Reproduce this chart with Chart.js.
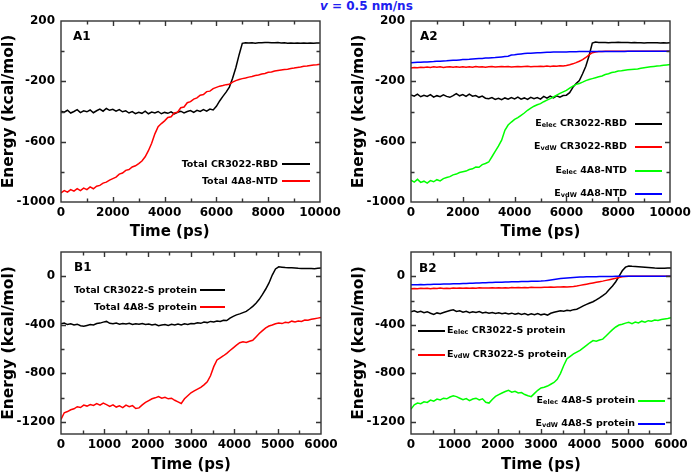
<!DOCTYPE html>
<html>
<head>
<meta charset="utf-8">
<script src="https://cdn.jsdelivr.net/npm/chart.js@4"></script>
<style>
  body { margin: 0; background: #fff; }
  #wrap { position: relative; width: 700px; height: 474px; overflow: hidden;
          font-family: "DejaVu Sans", sans-serif; font-weight: bold; }
  canvas { position: absolute; }
  .lbl { position: absolute; font-size: 12px; line-height: 12px; white-space: nowrap; }
  .leg { position: absolute; font-size: 9.5px; line-height: 12px; white-space: nowrap;
         display: flex; align-items: center; }
  .leg sub { font-size: 6.5px; vertical-align: baseline; position: relative; top: 1px; }
  .leg .ln { display: inline-block; height: 2px; }
</style>
</head>
<body>
<div id="wrap">
  <div class="lbl" style="left:320px;top:0px;color:#2020f0"><i>v</i> = 0.5 nm/ns</div>
  <canvas id="a1" width="350" height="248" style="left:0;top:0"></canvas>
  <canvas id="a2" width="350" height="248" style="left:350px;top:0"></canvas>
  <canvas id="b1" width="350" height="237" style="left:0;top:237px"></canvas>
  <canvas id="b2" width="350" height="237" style="left:350px;top:237px"></canvas>
  <div class="lbl" style="left:73px;top:30px">A1</div>
  <div class="lbl" style="left:420px;top:30px">A2</div>
  <div class="lbl" style="left:74px;top:261px">B1</div>
  <div class="lbl" style="left:419px;top:262px">B2</div>
</div>
<script>
// time axes (ps)
const timeA = [0,125,250,375,500,625,750,875,1000,1125,1250,1375,1500,1625,1750,1875,
  2000,2125,2250,2375,2500,2625,2750,2875,3000,3125,3250,3375,3500,3625,3750,3875,
  4000,4125,4250,4375,4500,4625,4750,4875,5000,5125,5250,5375,5500,5625,5750,5875,
  6000,6125,6250,6375,6500,6625,6750,6875,7000,7125,7250,7375,7500,7625,7750,7875,
  8000,8125,8250,8375,8500,8625,8750,8875,9000,9125,9250,9375,9500,9625,9750,9875,10000];
const timeB = [0,75,150,225,300,375,450,525,600,675,750,825,900,975,1050,1125,
  1200,1275,1350,1425,1500,1575,1650,1725,1800,1875,1950,2025,2100,2175,2250,2325,
  2400,2475,2550,2625,2700,2775,2850,2925,3000,3075,3150,3225,3300,3375,3450,3525,
  3600,3675,3750,3825,3900,3975,4050,4125,4200,4275,4350,4425,4500,4575,4650,4725,
  4800,4875,4950,5025,5100,5175,5250,5325,5400,5475,5550,5625,5700,5775,5850,5925,6000];

// A1: total energies (kcal/mol)
const a1TotalCR3022 = [-398,-405,-392,-410,-400,-388,-407,-396,
  -402,-390,-408,-395,-384,-398,-380,-392,
  -386,-398,-388,-402,-396,-410,-400,-414,
  -405,-412,-398,-415,-404,-410,-400,-415,
  -406,-412,-402,-416,-405,-398,-410,-400,
  -394,-406,-392,-400,-388,-398,-384,-390,
  -366,-330,-300,-272,-238,-180,-110,-25,
  52,56,54,55,53,56,55,57,
  58,56,55,57,54,55,53,54,
  52,54,53,54,53,54,53,54, 54];
const a1Total4A8 = [-940,-925,-935,-918,-928,-912,-925,-908,
  -918,-900,-912,-895,-890,-875,-868,-855,
  -845,-835,-815,-808,-790,-785,-768,-760,
  -745,-728,-700,-660,-610,-548,-500,-480,
  -462,-440,-435,-410,-405,-375,-370,-342,
  -335,-318,-310,-292,-288,-268,-265,-248,
  -240,-232,-228,-222,-220,-205,-195,-188,
  -182,-178,-172,-168,-162,-158,-152,-148,
  -140,-138,-132,-128,-125,-122,-120,-115,
  -112,-108,-105,-100,-98,-95,-92,-90, -87];

// A2: energy components
const a2ElecCR3022 = [-290,-298,-285,-302,-292,-300,-288,-305,
  -295,-302,-290,-300,-306,-295,-282,-296,
  -288,-300,-285,-298,-294,-306,-298,-312,
  -315,-308,-320,-312,-322,-310,-318,-308,
  -316,-305,-318,-310,-320,-306,-315,-308,
  -318,-300,-312,-298,-310,-296,-305,-294,
  -292,-275,-240,-215,-195,-150,-100,-30,
  54,60,58,57,58,56,57,58,
  59,58,57,58,56,57,55,56,
  54,56,55,56,55,54,55,54, 55];
const a2VdwCR3022 = [-112,-108,-110,-106,-109,-105,-108,-104,
  -107,-104,-108,-105,-103,-107,-104,-106,
  -103,-106,-104,-107,-102,-105,-103,-106,
  -104,-102,-105,-103,-101,-104,-102,-105,
  -103,-101,-104,-102,-100,-103,-101,-102,
  -100,-102,-99,-101,-98,-100,-97,-99,
  -95,-90,-84,-76,-67,-56,-42,-25,
  -10,-5,-3,-2,-1,-1,0,0,
  0,0,0,0,0,0,0,0,
  0,0,0,0,0,0,0,0, 0];
const a2Elec4A8 = [-855,-868,-850,-870,-862,-875,-858,-866,
  -852,-860,-845,-838,-832,-820,-815,-805,
  -800,-795,-785,-780,-768,-770,-752,-745,
  -735,-700,-665,-630,-590,-525,-490,-470,
  -452,-440,-425,-410,-392,-378,-365,-355,
  -348,-335,-325,-315,-304,-292,-280,-270,
  -260,-245,-232,-220,-214,-205,-195,-188,
  -182,-176,-170,-165,-155,-150,-142,-138,
  -132,-130,-126,-124,-122,-120,-118,-114,
  -110,-107,-104,-101,-98,-96,-93,-91, -89];
const a2Vdw4A8 = [-76,-75,-74,-74,-72,-71,-70,-69,
  -67,-67,-65,-64,-62,-61,-60,-58,
  -56,-55,-54,-52,-50,-49,-48,-46,
  -45,-43,-42,-40,-38,-36,-34,-26,
  -24,-20,-18,-16,-14,-13,-12,-11,
  -10,-9,-8,-7,-6,-6,-5,-5,
  -5,-4,-4,-4,-3,-3,-3,-3,
  -3,-2,-2,-2,-2,-2,-2,-2,
  -2,-2,-2,-1,-1,-1,-1,-1,
  -1,-1,-1,-1,-1,-1,-1,-1, -1];

// B1: total energies with S protein
const b1TotalCR3022 = [-392,-385,-398,-392,-402,-395,-408,-412,
  -405,-398,-402,-390,-386,-378,-372,-388,
  -392,-386,-395,-390,-393,-388,-398,-392,
  -396,-390,-398,-394,-402,-396,-408,-402,
  -398,-405,-396,-402,-394,-402,-392,-398,
  -390,-392,-384,-388,-378,-382,-372,-376,
  -368,-372,-362,-365,-345,-330,-318,-310,
  -300,-290,-270,-248,-222,-190,-150,-105,
  -55,10,60,78,75,72,70,70,
  68,66,65,64,63,64,62,66, 68];
const b1Total4A8 = [-1180,-1125,-1115,-1100,-1092,-1075,-1082,-1062,
  -1070,-1058,-1065,-1050,-1062,-1045,-1058,-1072,
  -1060,-1078,-1068,-1082,-1062,-1075,-1066,-1090,
  -1085,-1060,-1040,-1025,-1010,-1002,-992,-1005,
  -998,-1010,-1005,-1022,-1035,-1048,-1010,-985,
  -960,-945,-930,-915,-895,-870,-820,-745,
  -690,-672,-655,-635,-612,-590,-568,-548,
  -540,-545,-535,-528,-500,-472,-448,-425,
  -410,-402,-392,-385,-390,-380,-383,-370,
  -376,-368,-372,-360,-362,-355,-350,-345, -340];

// B2: energy components with S protein
const b2ElecCR3022 = [-292,-285,-296,-288,-300,-292,-305,-315,
  -302,-308,-298,-290,-282,-276,-290,-284,
  -296,-288,-300,-292,-298,-290,-302,-296,
  -304,-298,-306,-300,-308,-302,-310,-304,
  -312,-306,-314,-308,-318,-310,-316,-308,
  -318,-312,-320,-305,-296,-290,-284,-288,
  -280,-284,-275,-272,-258,-244,-232,-220,
  -210,-195,-178,-160,-140,-110,-80,-45,
  0,45,75,85,82,80,78,76,
  74,72,70,68,67,66,67,68, 69];
const b2VdwCR3022 = [-102,-100,-103,-99,-101,-98,-102,-99,
  -100,-97,-101,-98,-100,-96,-99,-97,
  -98,-96,-99,-97,-98,-95,-97,-96,
  -97,-94,-96,-95,-97,-94,-96,-93,
  -95,-93,-94,-92,-94,-91,-93,-92,
  -92,-90,-91,-89,-90,-88,-89,-87,
  -88,-86,-84,-80,-75,-70,-65,-60,
  -55,-50,-45,-40,-34,-28,-22,-16,
  -10,-5,-2,0,0,0,0,0,
  0,0,0,0,0,0,0,0, 0];
const b2Elec4A8 = [-1095,-1060,-1045,-1050,-1035,-1040,-1020,-1030,
  -1012,-1020,-1005,-1010,-995,-985,-992,-1005,
  -1018,-1008,-1025,-1012,-1005,-1020,-1010,-1038,
  -1045,-1015,-990,-975,-962,-950,-940,-955,
  -948,-962,-958,-975,-985,-992,-965,-940,
  -920,-915,-905,-890,-875,-850,-800,-735,
  -680,-660,-640,-625,-610,-590,-570,-548,
  -530,-535,-525,-518,-492,-465,-440,-418,
  -402,-395,-386,-380,-390,-378,-385,-370,
  -378,-366,-370,-360,-364,-356,-352,-348, -342];
const b2Vdw4A8 = [-70,-69,-70,-68,-69,-67,-68,-66,
  -66,-65,-64,-64,-63,-62,-62,-61,
  -60,-59,-58,-57,-56,-55,-54,-53,
  -52,-51,-50,-50,-49,-48,-47,-46,
  -46,-45,-44,-44,-43,-42,-42,-41,
  -40,-38,-34,-30,-26,-22,-19,-17,
  -15,-13,-11,-9,-7,-6,-5,-4,
  -3,-3,-2,-2,-1,-1,-1,0,
  0,0,0,0,0,0,0,0,
  0,0,0,0,0,0,0,0, 0];

// legend names (E_xxx -> subscript)
const namesA1 = ['Total CR3022-RBD', 'Total 4A8-NTD'];
const namesA2 = ['E_elec CR3022-RBD', 'E_vdW CR3022-RBD', 'E_elec 4A8-NTD', 'E_vdW 4A8-NTD'];
const namesB1 = ['Total CR3022-S protein', 'Total 4A8-S protein'];
const namesB2 = ['E_elec CR3022-S protein', 'E_vdW CR3022-S protein', 'E_elec 4A8-S protein', 'E_vdW 4A8-S protein'];

// ticks
const xTicksA = [0,1000,2000,3000,4000,5000,6000,7000,8000,9000,10000];
const xLabelsA = [0,2000,4000,6000,8000,10000];
const yTicksA = [-1000,-800,-600,-400,-200,0,200];
const yLabelsA = [-1000,-600,-200,200];
const xTicksB = [0,500,1000,1500,2000,2500,3000,3500,4000,4500,5000,5500,6000];
const xLabelsB = [0,1000,2000,3000,4000,5000,6000];
const yTicksB = [-1200,-1000,-800,-600,-400,-200,0,200];
const yLabelsB = [-1200,-800,-400,0];

const colors = ['#000000', '#ff0000', '#00ff00', '#0000ff'];
const tickFont = { family: 'DejaVu Sans', size: 12, weight: 'bold' };

function frame(xMajor, yMajor) {
  return {
    id: 'frame',
    afterDraw(chart) {
      const { ctx, chartArea: a, scales: { x, y } } = chart;
      ctx.save();
      ctx.strokeStyle = '#333';
      ctx.lineWidth = 1.4;
      ctx.beginPath();
      x.ticks.forEach(t => {
        if (t.value === x.min || t.value === x.max) return;
        const px = Math.round(x.getPixelForValue(t.value)) + 0.5;
        const len = xMajor.includes(t.value) ? 5 : 3.5;
        ctx.moveTo(px, a.bottom); ctx.lineTo(px, a.bottom - len);
        ctx.moveTo(px, a.top); ctx.lineTo(px, a.top + len);
      });
      y.ticks.forEach(t => {
        if (t.value === y.min || t.value === y.max) return;
        const py = Math.round(y.getPixelForValue(t.value)) + 0.5;
        const len = yMajor.includes(t.value) ? 5 : 3.5;
        ctx.moveTo(a.left, py); ctx.lineTo(a.left + len, py);
        ctx.moveTo(a.right, py); ctx.lineTo(a.right - len, py);
      });
      ctx.stroke();
      ctx.strokeRect(a.left, a.top, a.right - a.left, a.bottom - a.top);
      ctx.restore();
    }
  };
}

function makePanel(id, time, names, series, p) {
  const datasets = series.map((vals, i) => ({
    label: names[i],
    data: vals.map((v, k) => ({ x: time[k], y: v })),
    borderColor: colors[i],
    borderWidth: 1.5,
    pointRadius: 0,
    fill: false,
    tension: 0,
    order: series.length - i
  }));
  new Chart(document.getElementById(id), {
    type: 'line',
    data: { datasets },
    options: {
      responsive: false,
      animation: false,
      layout: { padding: { left: 0, right: p.padRight, top: p.padTop, bottom: 0 } },
      plugins: { legend: { display: false }, tooltip: { enabled: false } },
      scales: {
        x: {
          type: 'linear', min: p.xMin, max: p.xMax,
          grid: { display: false, drawTicks: false },
          border: { display: false },
          afterBuildTicks: s => { s.ticks = p.xTicks.map(v => ({ value: v })); },
          afterFit: s => { s.height = p.xHeight; },
          ticks: {
            autoSkip: false, maxRotation: 0, padding: 4, color: '#000', font: tickFont,
            callback: v => p.xLabels.includes(v) ? String(v) : ''
          },
          title: {
            display: true, text: p.xTitle, color: '#000',
            font: { family: 'DejaVu Sans', size: 15, weight: 'bold' },
            padding: { top: 0, bottom: p.xTitlePad }
          }
        },
        y: {
          type: 'linear', min: p.yMin, max: p.yMax,
          grid: { display: false, drawTicks: false },
          border: { display: false },
          afterBuildTicks: s => { s.ticks = p.yTicks.map(v => ({ value: v })); },
          afterFit: s => { s.width = 61; },
          ticks: {
            autoSkip: false, padding: 6, color: '#000', font: tickFont,
            callback: v => p.yLabels.includes(v) ? String(v) : ''
          },
          title: {
            display: true, text: 'Energy (kcal/mol)', color: '#000',
            font: { family: 'DejaVu Sans', size: 15.5, weight: 'bold', lineHeight: 1.1 },
            padding: 0
          }
        }
      }
    },
    plugins: [frame(p.xLabels, p.yLabels)]
  });
}

function addLegend(names, items) {
  const wrap = document.getElementById('wrap');
  names.forEach((name, i) => {
    const it = items[i];
    const d = document.createElement('div');
    d.className = 'leg';
    const txt = '<span>' + name.replace(/E_(\w+)/, 'E<sub>$1</sub>') + '</span>';
    const ln = '<span class="ln" style="width:' + it.len + 'px;background:' + colors[i] + ';' +
      (it.side === 'right' ? 'margin-left:' : 'margin-right:') + it.gap + 'px"></span>';
    d.style.top = (it.y - 6) + 'px';
    if (it.side === 'right') {
      d.style.right = (700 - it.x) + 'px';
      d.innerHTML = txt + ln;
    } else {
      d.style.left = it.x + 'px';
      d.innerHTML = ln + txt;
    }
    wrap.appendChild(d);
  });
}

const layoutA = { xMin: 0, xMax: 10000, yMin: -1000, yMax: 200, xTicks: xTicksA, xLabels: xLabelsA,
  yTicks: yTicksA, yLabels: yLabelsA, padRight: 30, padTop: 21, xHeight: 46, xTitlePad: 7 };
const layoutB = { xMin: 0, xMax: 6000, yMin: -1300, yMax: 200, xTicks: xTicksB, xLabels: xLabelsB,
  yTicks: yTicksB, yLabels: yLabelsB, padRight: 29, padTop: 15, xHeight: 40, xTitlePad: 0 };

makePanel('a1', timeA, namesA1, [a1TotalCR3022, a1Total4A8],
  Object.assign({}, layoutA, { xTitle: 'Time (ps)\u00a0\u00a0\u00a0\u00a0\u00a0\u00a0\u00a0\u00a0' }));
makePanel('a2', timeA, namesA2, [a2ElecCR3022, a2VdwCR3022, a2Elec4A8, a2Vdw4A8],
  Object.assign({}, layoutA, { xTitle: 'Time (ps)' }));
makePanel('b1', timeB, namesB1, [b1TotalCR3022, b1Total4A8],
  Object.assign({}, layoutB, { xTitle: 'Time (ps)' }));
makePanel('b2', timeB, namesB2, [b2ElecCR3022, b2VdwCR3022, b2Elec4A8, b2Vdw4A8],
  Object.assign({}, layoutB, { xTitle: 'Time (ps)' }));

addLegend(namesA1, [
  { side: 'right', x: 310, y: 164, len: 28, gap: 4 },
  { side: 'right', x: 310, y: 181, len: 28, gap: 4 }
]);
addLegend(namesA2, [
  { side: 'right', x: 662, y: 123, len: 27, gap: 8 },
  { side: 'right', x: 662, y: 146, len: 27, gap: 8 },
  { side: 'right', x: 662, y: 170, len: 27, gap: 8 },
  { side: 'right', x: 662, y: 193, len: 27, gap: 8 }
]);
addLegend(namesB1, [
  { side: 'right', x: 225, y: 290, len: 25, gap: 3 },
  { side: 'right', x: 225, y: 307, len: 25, gap: 3 }
]);
addLegend(namesB2, [
  { side: 'left', x: 418, y: 330, len: 27, gap: 2 },
  { side: 'left', x: 418, y: 354, len: 27, gap: 2 },
  { side: 'right', x: 665, y: 400, len: 27, gap: 3 },
  { side: 'right', x: 665, y: 423, len: 27, gap: 3 }
]);
</script>
</body>
</html>
